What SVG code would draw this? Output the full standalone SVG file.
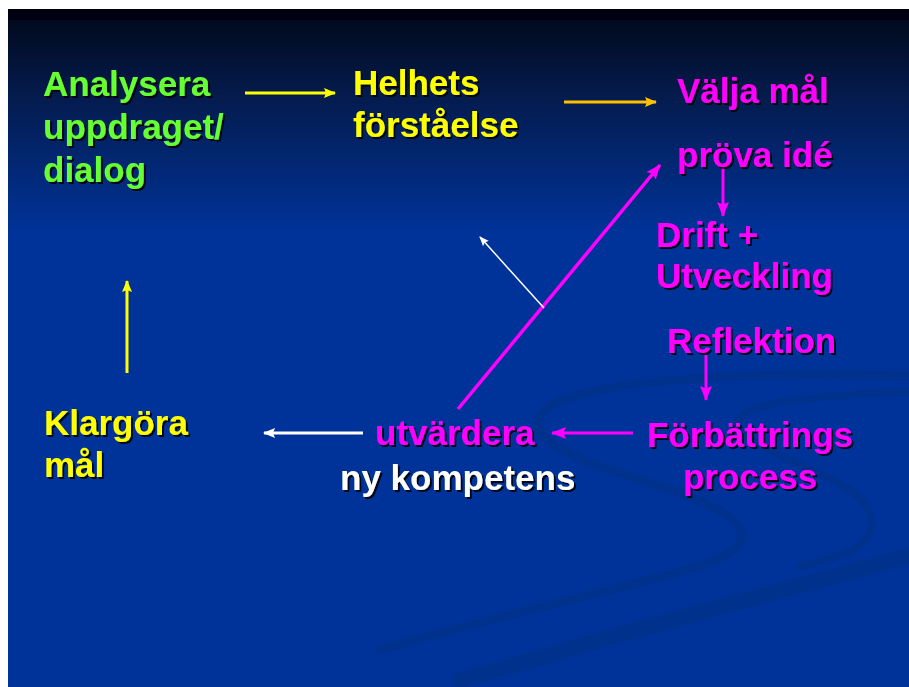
<svg xmlns="http://www.w3.org/2000/svg" width="909" height="687" viewBox="0 0 909 687">
  <defs>
    <linearGradient id="bg" x1="0" y1="0" x2="0" y2="1" gradientUnits="objectBoundingBox">
      <stop offset="0" stop-color="#000010"/>
      <stop offset="0.016" stop-color="#000012"/>
      <stop offset="0.017" stop-color="#020a1e"/>
      <stop offset="0.12" stop-color="#041a4a"/>
      <stop offset="0.33" stop-color="#003399"/>
      <stop offset="1" stop-color="#003399"/>
    </linearGradient>
    <filter id="sh" x="-10%" y="-20%" width="130%" height="150%">
      <feDropShadow dx="2" dy="2" stdDeviation="0.4" flood-color="#000000" flood-opacity="0.85"/>
    </filter>
    <marker id="aY" markerUnits="userSpaceOnUse" markerWidth="12" markerHeight="10" refX="11" refY="5" orient="auto">
      <path d="M0,0 L12,5 L0,10 L2,5 Z" fill="#ffff00"/>
    </marker>
    <marker id="aO" markerUnits="userSpaceOnUse" markerWidth="12" markerHeight="10" refX="11" refY="5" orient="auto">
      <path d="M0,0 L12,5 L0,10 L2,5 Z" fill="#ffc000"/>
    </marker>
    <marker id="aM" markerUnits="userSpaceOnUse" markerWidth="15" markerHeight="12" refX="14" refY="6" orient="auto">
      <path d="M0,0 L15,6 L0,12 L2.5,6 Z" fill="#ff00ff"/>
    </marker>
    <marker id="aW" markerUnits="userSpaceOnUse" markerWidth="12" markerHeight="10" refX="11" refY="5" orient="auto">
      <path d="M0,0 L12,5 L0,10 L2,5 Z" fill="#ffffff"/>
    </marker>
    <marker id="aWs" markerUnits="userSpaceOnUse" markerWidth="10" markerHeight="8" refX="9" refY="4" orient="auto">
      <path d="M0,0 L10,4 L0,8 L2,4 Z" fill="#ffffff"/>
    </marker>
  </defs>
  <style>
    text { font-family: "Liberation Sans", Arial, sans-serif; font-weight: bold; font-size: 35px; }
    .g { fill: #66ff33; }
    .y { fill: #ffff00; }
    .m { fill: #ff00ff; }
    .w { fill: #ffffff; }
    .swoosh { fill: none; stroke: #00307f; stroke-linecap: round; opacity: 0.45; }
    .c { fill: none; }
  </style>

  <rect x="0" y="0" width="909" height="687" fill="#ffffff"/>
  <rect x="8" y="9" width="901" height="678" fill="url(#bg)"/>

  <g id="background-swooshes">
    <path class="swoosh" stroke-width="9" d="M909,376 C780,370 600,378 552,405 C520,425 545,448 610,470 C680,492 745,512 742,538 C738,560 680,572 610,590 C520,612 440,632 380,650"/>
    <path class="swoosh" stroke-width="8" d="M909,392 C820,395 745,402 738,420 C732,440 800,462 840,484 C875,503 880,528 860,545 C845,556 820,562 800,566"/>
    <path class="swoosh" stroke-width="16" d="M909,556 C820,580 700,612 600,640 C540,658 490,672 460,680"/>
  </g>

  <g id="connectors">
    <line class="c" x1="245" y1="93" x2="335" y2="93" stroke="#ffff00" stroke-width="3" marker-end="url(#aY)"/>
    <line class="c" x1="564" y1="102" x2="656" y2="102" stroke="#ffc000" stroke-width="3" marker-end="url(#aO)"/>
    <line class="c" x1="723" y1="167" x2="723" y2="216" stroke="#ff00ff" stroke-width="3" marker-end="url(#aM)"/>
    <line class="c" x1="706" y1="355" x2="706" y2="400" stroke="#ff00ff" stroke-width="3" marker-end="url(#aM)"/>
    <line class="c" x1="633" y1="433" x2="552" y2="433" stroke="#ff00ff" stroke-width="3" marker-end="url(#aM)"/>
    <line class="c" x1="363" y1="433" x2="264" y2="433" stroke="#ffffff" stroke-width="3" marker-end="url(#aW)"/>
    <line class="c" x1="127" y1="373" x2="127" y2="281" stroke="#ffff00" stroke-width="3" marker-end="url(#aY)"/>
    <line class="c" x1="458" y1="409" x2="660" y2="165" stroke="#ff00ff" stroke-width="3.5" marker-end="url(#aM)"/>
    <line class="c" x1="544" y1="308" x2="480" y2="237" stroke="#ffffff" stroke-width="1.5" marker-end="url(#aWs)"/>
  </g>

  <g id="node-analysera" filter="url(#sh)">
    <text class="g" x="43" y="96">Analysera</text>
    <text class="g" x="43" y="139">uppdraget/</text>
    <text class="g" x="43" y="182">dialog</text>
  </g>
  <g id="node-helhets" filter="url(#sh)">
    <text class="y" x="353" y="95">Helhets</text>
    <text class="y" x="353" y="137">förståelse</text>
  </g>
  <g id="node-valja" filter="url(#sh)">
    <text class="m" x="677" y="103">Välja mål</text>
  </g>
  <g id="node-prova" filter="url(#sh)">
    <text class="m" x="677" y="167">pröva idé</text>
  </g>
  <g id="node-drift" filter="url(#sh)">
    <text class="m" x="656" y="247">Drift +</text>
    <text class="m" x="656" y="288">Utveckling</text>
  </g>
  <g id="node-reflektion" filter="url(#sh)">
    <text class="m" x="667" y="353">Reflektion</text>
  </g>
  <g id="node-forbattrings" filter="url(#sh)">
    <text class="m" x="750" y="447" text-anchor="middle">Förbättrings</text>
    <text class="m" x="750" y="489" text-anchor="middle">process</text>
  </g>
  <g id="node-utvardera" filter="url(#sh)">
    <text class="m" x="375" y="445">utvärdera</text>
    <text class="w" x="340" y="490">ny kompetens</text>
  </g>
  <g id="node-klargora" filter="url(#sh)">
    <text class="y" x="44" y="435">Klargöra</text>
    <text class="y" x="44" y="477">mål</text>
  </g>
</svg>
